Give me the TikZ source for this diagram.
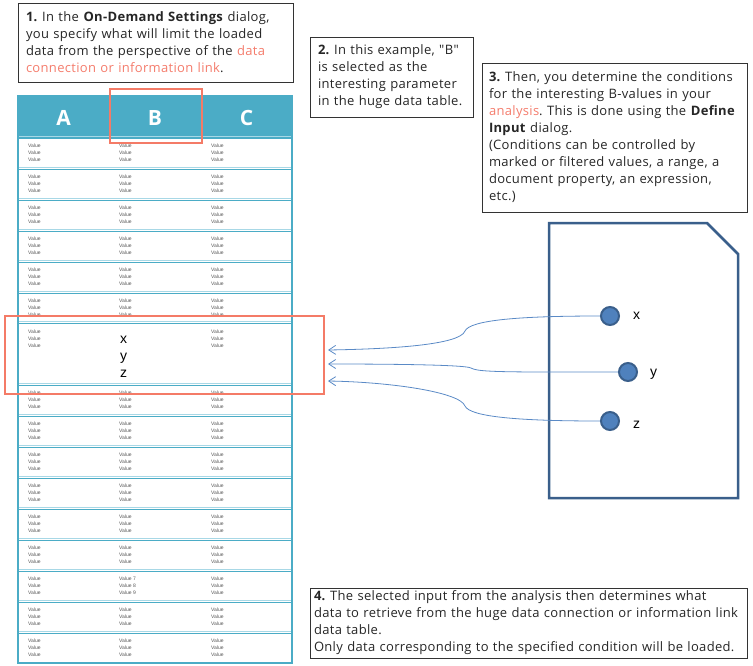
\documentclass[tikz,border=0pt]{standalone}
\usepackage{fontspec}
\setmainfont{Open Sans}
\newfontfamily\notefont[LetterSpace=2.5]{Open Sans}
\newfontfamily\arialish{Liberation Sans}
\usetikzlibrary{arrows.meta}
\definecolor{teal1}{HTML}{4BACC6}
\definecolor{teallight}{HTML}{A8D8E6}
\definecolor{hl}{HTML}{F47B67}
\definecolor{redtext}{HTML}{F47C6C}
\definecolor{docblue}{HTML}{3A5F8B}
\definecolor{dotblue}{HTML}{4F81BD}
\definecolor{arrowblue}{HTML}{5A8AC6}
\definecolor{boxline}{HTML}{333333}
\definecolor{valgray}{HTML}{555555}
\frenchspacing
\begin{document}
\begin{tikzpicture}[x=1pt,y=-1pt,
  note/.style={draw=boxline,line width=0.9pt,anchor=north west,align=left,inner ysep=0pt,outer sep=0pt,
    font=\notefont\fontsize{13}{17}\selectfont,text=black!85},
  val/.style={anchor=west,font=\arialish\fontsize{5}{6}\selectfont,text=valgray,inner sep=0pt},
  hdr/.style={font=\fontsize{21}{24}\selectfont\bfseries,text=white},
  xyz/.style={anchor=base west,inner sep=0pt,font=\arialish\fontsize{14}{17}\selectfont},
  dot/.style={circle,draw=docblue,line width=2pt,fill=dotblue,minimum size=18pt,inner sep=0pt},
  link/.style={draw=arrowblue,line width=0.8pt,-{Straight Barb[length=7pt,width=9pt]}},
  hlbox/.style={draw=hl,line width=1.6pt}
]
\useasboundingbox (0,0) rectangle (753,665);

% notes
\node[note,text width=259pt,inner xsep=8pt,minimum height=79pt] (n1) at (18,3)
 {\textbf{1.} In the \textbf{On-Demand Settings} dialog,\\
  you specify what will limit the loaded\\
  data from the perspective of the \textcolor{redtext}{data}\\
  \textcolor{redtext}{connection or information link}.};
\node[note,text width=147pt,inner xsep=8pt,minimum height=80pt] (n2) at (310,37)
 {\textbf{2.} In this example, "B"\\
  is selected as the\\
  interesting parameter\\
  in the huge data table.};
\node[note,text width=251pt,inner xsep=7pt,minimum height=149pt] (n3) at (482,63)
 {\textbf{3.} Then, you determine the conditions\\
  for the interesting B-values in your\\
  \textcolor{redtext}{analysis}. This is done using the \textbf{Define}\\
  \textbf{Input} dialog.\\
  (Conditions can be controlled by\\
  marked or filtered values, a range, a\\
  document property, an expression,\\
  etc.)};
\node[note,text width=429pt,inner xsep=4pt,minimum height=70pt] (n4) at (310,588)
 {\textbf{4.} The selected input from the analysis then determines what\\
  data to retrieve from the huge data connection or information link\\
  data table.\\
  Only data corresponding to the specified condition will be loaded.};

% table
\fill[teal1] (18,96) rectangle (292,138);
\node[hdr] (hA) at (63.5,118) {A};
\node[hdr] (hB) at (155,118) {B};
\node[hdr] (hC) at (246.5,118) {C};
\foreach \y in {138,169,200,231,262,293,323,385,416,447,478,509,540,571,602,633}{
  \draw[teallight,line width=1pt] (18,\y-1.2) -- (292,\y-1.2);
  \draw[teal1,line width=0.9pt] (18,\y) -- (292,\y);
}
\foreach \t in {138,169,200,231,262,293,385,416,447,478,509,540,602,633}{
  \foreach \c [count=\k] in {28,119,211}{
    \node[val] (v\t-\k-a) at (\c,\t+8) {Value};
    \node[val] (v\t-\k-b) at (\c,\t+15) {Value};
    \node[val] (v\t-\k-c) at (\c,\t+22) {Value};
  }
}
\foreach \c [count=\k] in {28,211}{
  \node[val] (w571-\k-a) at (\c,579) {Value};
  \node[val] (w571-\k-b) at (\c,586) {Value};
  \node[val] (w571-\k-c) at (\c,593) {Value};
  \node[val] (w323-\k-a) at (\c,332) {Value};
  \node[val] (w323-\k-b) at (\c,339) {Value};
  \node[val] (w323-\k-c) at (\c,346) {Value};
}
\node[val] (b7) at (119,579) {Value 7};
\node[val] (b8) at (119,586) {Value 8};
\node[val] (b9) at (119,593) {Value 9};
\node[xyz] (tx) at (120,343) {x};
\node[xyz] (ty) at (120,360) {y};
\node[xyz] (tz) at (120,377) {z};
\draw[teal1,line width=1.2pt] (18,96) rectangle (292,663);

% highlights
\draw[hlbox] (110,89) rectangle (202,143);
\draw[hlbox] (5,316) rectangle (324,394);

% document
\draw[docblue,line width=2.5pt,line join=miter] (549,223) -- (707,223) -- (738,254) -- (738,498) -- (549,498) -- cycle;
\node[dot] (cx) at (610,316) {};
\node[dot] (cy) at (628,372) {};
\node[dot] (cz) at (610,421) {};
\node[xyz] (lx) at (633,319) {x};
\node[xyz] (ly) at (650,376) {y};
\node[xyz] (lz) at (633,428) {z};

\coordinate (ax) at (328,350);
\coordinate (ay) at (328,364);
\coordinate (az) at (328,381);
\draw[link] (cx.west) .. controls (520,316) and (470,320) .. (465,331) .. controls (460,345) and (390,349) .. (ax);
\draw[link] (cy.west) -- (550,372) .. controls (490,372) and (476,371) .. (471,368) .. controls (466,365) and (400,364) .. (ay);
\draw[link] (cz.west) .. controls (520,421) and (470,417) .. (465,406) .. controls (460,392) and (390,382) .. (az);
\end{tikzpicture}
\end{document}
